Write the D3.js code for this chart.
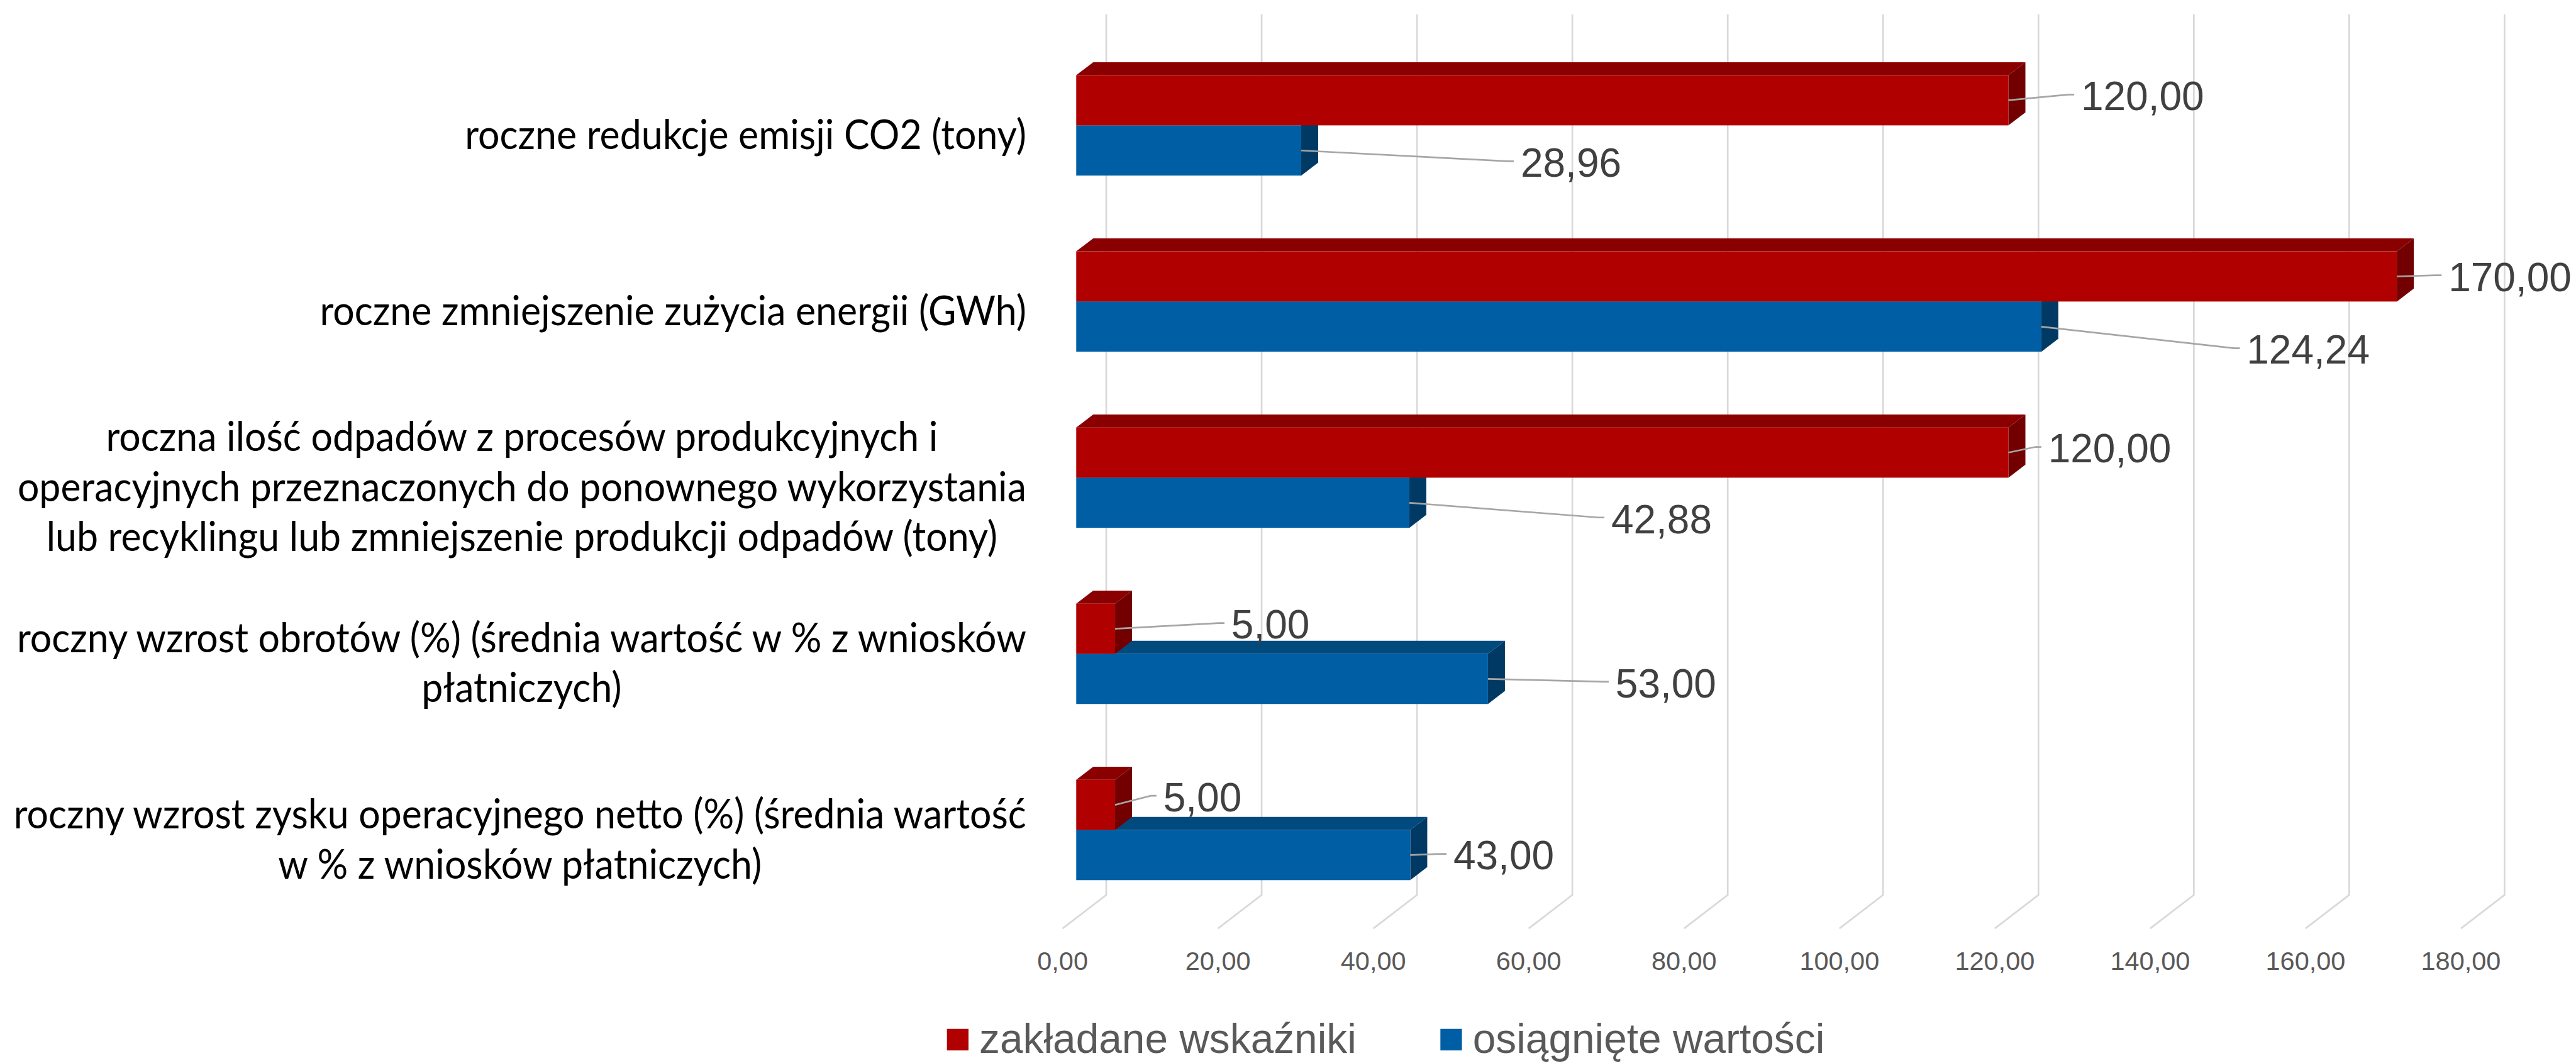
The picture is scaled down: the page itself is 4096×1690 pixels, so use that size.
<!DOCTYPE html>
<html>
<head>
<meta charset="utf-8">
<script src="https://cdn.jsdelivr.net/npm/d3@7"></script>
<style>
  html, body { margin: 0; padding: 0; background: #fff; }
  svg { display: block; }
</style>
</head>
<body>
<svg id="chart"></svg>
<script>
// chart data
var categoryLines = [
    ["roczne redukcje emisji CO2 (tony)"],
    ["roczne zmniejszenie zużycia energii (GWh)"],
    ["roczna ilość odpadów z procesów produkcyjnych i",
     "operacyjnych przeznaczonych do ponownego wykorzystania",
     "lub recyklingu lub zmniejszenie produkcji odpadów (tony)"],
    ["roczny wzrost obrotów (%) (średnia wartość w % z wniosków",
     "płatniczych)"],
    ["roczny wzrost zysku operacyjnego netto (%) (średnia wartość",
     "w % z wniosków płatniczych)"]
];
var seriesNames = ["zakładane wskaźniki", "osiągnięte wartości"];
var planned = [120, 170, 120, 5, 5];
var achieved = [28.96, 124.24, 42.88, 53, 43];
var xTicks = [0, 20, 40, 60, 80, 100, 120, 140, 160, 180];

// data labels were dragged by hand in the original: [dx, dy] from the bar end
var plannedLabelOffsets  = [[128, -8], [91, 0], [70, -8], [205, -8], [85, -14]];
var achievedLabelOffsets = [[387, 21], [362, 40], [356, 28], [225, 7], [76, 0]];

// layout (drawn in the reference's own pixel space, viewBox scales it down)
var W = 4543, H = 1874;
var FRONT_LEFT = 1874, FRONT_RIGHT = 4340;
var FRONT_TOP = 84, FRONT_BOTTOM = 1637;
var DEPTH_X = 77, DEPTH_Y = -59;      // floor depth vector
var BAR_NEAR = 0.312, BAR_FAR = 0.701; // bar box sits in the middle of the depth
var GAP_WIDTH = 1.51;
var LABEL_RIGHT = 1810, LABEL_MAX_W = 1786;

var seriesColors = [
    {front: "#b00000", top: "#8a0000", side: "#720000"},
    {front: "#005ea5", top: "#004a7e", side: "#003a64"}
];

var svg = d3.select("#chart")
    .attr("width", 4096)
    .attr("height", 1690)
    .attr("viewBox", "0 0 " + W + " " + H);

var pl = d3.formatLocale({decimal: ",", thousands: " ", grouping: [3], currency: ["", " zł"]});
var fmt = pl.format(".2f");

var x = d3.scaleLinear().domain([0, 180]).range([FRONT_LEFT, FRONT_RIGHT]);
var y = d3.scaleBand().domain(d3.range(categoryLines.length)).range([FRONT_TOP, FRONT_BOTTOM]);
var barH = y.bandwidth() / (2 + GAP_WIDTH);
var groupOff = (y.bandwidth() - 2 * barH) / 2;

function proj(px, py, f) {
    return [px + DEPTH_X * f, py + DEPTH_Y * f];
}

// back wall gridlines + floor lines
var grid = svg.append("g").attr("id", "grid");
grid.selectAll("path")
    .data(xTicks)
    .enter()
    .append("path")
    .attr("d", function(d) {
        var a = proj(x(d), FRONT_TOP, 1), b = proj(x(d), FRONT_BOTTOM, 1);
        return "M" + a + "L" + b + "L" + [x(d), FRONT_BOTTOM];
    })
    .attr("fill", "none")
    .attr("stroke", "#d9d9d9")
    .attr("stroke-width", 3);

// tick labels
svg.append("g")
    .selectAll("text")
    .data(xTicks)
    .enter()
    .append("text")
    .attr("x", function(d) { return x(d); })
    .attr("y", 1693)
    .attr("dy", "0.36em")
    .attr("text-anchor", "middle")
    .attr("font-family", "'Liberation Sans', Arial, sans-serif")
    .attr("font-size", 46)
    .attr("fill", "#595959")
    .text(function(d) { return fmt(d); });

// one record per bar, lower series (achieved) first so the upper bar paints over it
var bars = [];
for (var i = 0; i < planned.length; i++) {
    bars.push({cat: i, s: 1, value: achieved[i], off: achievedLabelOffsets[i]});
    bars.push({cat: i, s: 0, value: planned[i], off: plannedLabelOffsets[i]});
}

function barGeom(d) {
    var yT = y(d.cat) + groupOff + d.s * barH;
    var yB = yT + barH;
    var x0 = x(0), x1 = x(d.value);
    return {yT: yT, yB: yB, x0: x0, x1: x1};
}

var barG = svg.append("g").attr("id", "bars")
    .selectAll("g")
    .data(bars)
    .enter()
    .append("g");

// top face
barG.append("path")
    .attr("d", function(d) {
        var g = barGeom(d);
        return "M" + proj(g.x0, g.yT, BAR_NEAR) + "L" + proj(g.x1, g.yT, BAR_NEAR) +
               "L" + proj(g.x1, g.yT, BAR_FAR) + "L" + proj(g.x0, g.yT, BAR_FAR) + "Z";
    })
    .attr("fill", function(d) { return seriesColors[d.s].top; });

// right side face
barG.append("path")
    .attr("d", function(d) {
        var g = barGeom(d);
        return "M" + proj(g.x1, g.yT, BAR_NEAR) + "L" + proj(g.x1, g.yT, BAR_FAR) +
               "L" + proj(g.x1, g.yB, BAR_FAR) + "L" + proj(g.x1, g.yB, BAR_NEAR) + "Z";
    })
    .attr("fill", function(d) { return seriesColors[d.s].side; });

// front face
barG.append("rect")
    .attr("x", function(d) { return proj(barGeom(d).x0, 0, BAR_NEAR)[0]; })
    .attr("y", function(d) { return proj(0, barGeom(d).yT, BAR_NEAR)[1]; })
    .attr("width", function(d) { var g = barGeom(d); return g.x1 - g.x0; })
    .attr("height", barH)
    .attr("fill", function(d) { return seriesColors[d.s].front; });

// data labels with leader lines
function labelAnchor(d) {
    var g = barGeom(d);
    return proj(g.x1, g.yT + barH / 2, BAR_NEAR);
}

var lab = svg.append("g").attr("id", "labels")
    .selectAll("g")
    .data(bars)
    .enter()
    .append("g");

lab.append("path")
    .attr("d", function(d) {
        var a = labelAnchor(d);
        var tx = a[0] + d.off[0], ty = a[1] + d.off[1] - 2;
        return "M" + a + "L" + [tx - 22, ty] + "L" + [tx - 12, ty];
    })
    .attr("fill", "none")
    .attr("stroke", "#a6a6a6")
    .attr("stroke-width", 3);

lab.append("text")
    .attr("x", function(d) { return labelAnchor(d)[0] + d.off[0]; })
    .attr("y", function(d) { return labelAnchor(d)[1] + d.off[1]; })
    .attr("dy", "0.36em")
    .attr("font-family", "'Liberation Sans', Arial, sans-serif")
    .attr("font-size", 71)
    .attr("fill", "#404040")
    .text(function(d) { return fmt(d.value); });

// category labels: lines centred inside a block that is right aligned to the axis
var catG = svg.append("g").attr("id", "categories")
    .selectAll("g")
    .data(categoryLines)
    .enter()
    .append("g");

var LINE_H = 88;
catG.each(function(lines, i) {
    var g = d3.select(this);
    var cy = y(i) + y.bandwidth() / 2 + 23;
    g.selectAll("text")
        .data(lines)
        .enter()
        .append("text")
        .attr("y", function(d, j) { return cy + (j - (lines.length - 1) / 2) * LINE_H; })
        .attr("font-family", "Lato, 'Open Sans', sans-serif")
        .attr("font-size", 72)
        .attr("fill", "#000")
        .text(function(d) { return d; });
});

// Calibri is narrower than anything installed, squeeze lines so the widest fits
var allText = svg.selectAll("#categories text");
var widest = d3.max(allText.nodes(), function(n) { return n.getComputedTextLength(); });
var squeeze = Math.min(1, LABEL_MAX_W / widest);
catG.each(function() {
    var t = d3.select(this).selectAll("text");
    var ws = t.nodes().map(function(n) { return n.getComputedTextLength() * squeeze; });
    var blockW = d3.max(ws);
    var cx = LABEL_RIGHT - blockW / 2;
    t.attr("x", cx)
        .attr("text-anchor", "middle")
        .attr("textLength", function(d, j) { return ws[j]; })
        .attr("lengthAdjust", "spacingAndGlyphs");
});

// legend
var legend = svg.append("g").attr("id", "legend");
var lx = 1670;
seriesNames.forEach(function(name, s) {
    legend.append("rect")
        .attr("x", lx)
        .attr("y", 1814)
        .attr("width", 38)
        .attr("height", 38)
        .attr("fill", seriesColors[s].front);
    var t = legend.append("text")
        .attr("x", lx + 57)
        .attr("y", 1856)
        .attr("font-family", "'Liberation Sans', Arial, sans-serif")
        .attr("font-size", 73)
        .attr("fill", "#595959")
        .text(name);
    lx += 57 + t.node().getComputedTextLength() + 148;
});
</script>
</body>
</html>
